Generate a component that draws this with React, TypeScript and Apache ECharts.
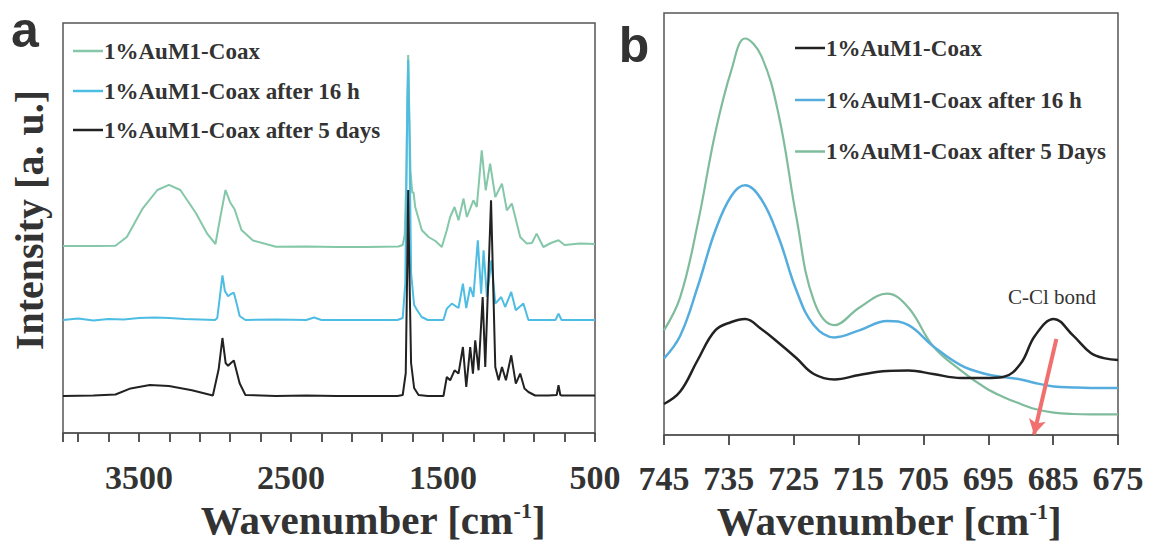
import React, { useEffect, useRef } from 'react';
import * as echarts from 'echarts';

// ---------- Panel a (FTIR, stacked spectra, arbitrary intensity units) ----------
const aNames = ['1%AuM1-Coax', '1%AuM1-Coax after 16 h', '1%AuM1-Coax after 5 days'];
const aTickLabels = [3500, 2500, 1500, 500];

const aCoaxWn = [4000, 3800, 3655, 3580, 3479, 3379, 3303, 3228, 3127, 3052, 2997, 2964, 2931, 2901, 2871, 2826, 2750, 2599, 2400, 2200, 2000, 1794, 1765, 1752, 1742, 1735, 1729, 1723, 1714, 1702, 1694, 1683, 1639, 1595, 1550, 1508, 1475, 1453, 1424, 1398, 1365, 1343, 1300, 1278, 1245, 1219, 1190, 1156, 1112, 1080, 1047, 992, 949, 915, 884, 840, 790, 740, 700, 600, 500];
const aCoaxI = [187, 187, 187.3, 196, 223.8, 243, 248.2, 243, 220.3, 199.4, 189, 216.8, 243, 230.8, 223.8, 203, 192.5, 186.2, 186.5, 186, 186, 186.5, 188, 198, 250, 330, 378, 330, 262, 240, 241, 226, 202.7, 196, 192, 186, 202.7, 216, 226, 212.7, 234.4, 216, 232.7, 226, 282.7, 242.7, 269.4, 236, 249.4, 222.7, 229.4, 196, 189.4, 190, 199.4, 186, 190, 192.7, 188, 189.4, 189];

const a16hWn = [4000, 3900, 3800, 3700, 3600, 3500, 3400, 3300, 3200, 3100, 3000, 2985, 2965, 2951, 2935, 2914, 2895, 2876, 2855, 2838, 2800, 2600, 2400, 2348, 2300, 2000, 1800, 1765, 1748, 1737, 1729, 1721, 1710, 1690, 1670, 1640, 1600, 1497, 1475, 1442, 1398, 1369, 1347, 1321, 1300, 1271, 1249, 1233, 1211, 1182, 1156, 1117, 1091, 1051, 1021, 971, 938, 850, 760, 740, 720, 600, 500];
const a16hI = [113, 114.5, 112.5, 114, 113.5, 115, 115.5, 115, 114, 113.5, 113, 115, 140, 157.7, 142, 136.8, 139, 140.3, 128, 117, 113, 113.5, 113, 115.5, 113, 113, 113, 115, 150, 300, 373, 300, 160, 128, 122.7, 116, 113, 113, 124.4, 129.4, 125, 149.4, 125, 146, 136, 192.7, 139.4, 182.7, 136, 172.7, 129.4, 136, 126, 141, 122.7, 129.4, 113, 113, 113, 119.4, 113, 113, 113];

const a5dWn = [4000, 3800, 3655, 3555, 3429, 3303, 3152, 3014, 2976, 2951, 2930, 2914, 2895, 2876, 2838, 2800, 2600, 2400, 2200, 2000, 1800, 1765, 1745, 1735, 1729, 1722, 1710, 1690, 1661, 1600, 1497, 1475, 1453, 1424, 1398, 1369, 1347, 1321, 1303, 1288, 1266, 1239, 1222, 1184, 1156, 1134, 1112, 1086, 1051, 1021, 992, 964, 938, 894, 806, 752, 740, 728, 718, 600, 500];
const a5dI = [37, 37.5, 38.5, 44.6, 48, 47, 42.8, 37.5, 63.7, 95, 70, 67.2, 70, 72.4, 49.8, 38, 37, 37.5, 37, 37, 37, 38, 60, 170, 243, 170, 70, 45, 38, 37, 37, 56, 52.7, 62.7, 59.4, 86, 46, 86, 59.4, 92.7, 62.7, 136, 66, 232.7, 66, 52.7, 66, 52.7, 77.7, 49.4, 59.4, 44.4, 41, 37.5, 37.5, 38, 47.7, 38, 37.5, 37.5, 37.5];

// ---------- Panel b (zoom 745-675 cm-1) ----------
const bNames = ['1%AuM1-Coax', '1%AuM1-Coax after 16 h', '1%AuM1-Coax after 5 Days'];
const bWn = [745, 742.5, 739.8, 737.1, 734.6, 732.5, 730.0, 727.3, 724.6, 721.9, 718.7, 714.9, 710.6, 707.3, 703.5, 699.2, 695.4, 692.7, 690.0, 687.8, 684.9, 681.9, 679.2, 677.0, 675];
const bCoaxI = [31, 43.4, 75, 104.6, 113, 116, 106, 92, 77, 61, 55.6, 60, 64, 64.5, 61, 57, 57, 58, 71.4, 99.3, 116, 99.3, 82, 76.6, 75];
const b16hI = [76.6, 99.3, 148.3, 204.2, 239.2, 249.7, 235.7, 197.2, 144.8, 109.8, 97.6, 104.6, 114, 109.8, 88.8, 69.6, 61, 58, 55.6, 52, 48.6, 47.5, 47, 47, 47];
const b5dI = [104.6, 137.8, 211.2, 302.1, 365.1, 396.5, 379.1, 319.6, 218.2, 134.3, 109.8, 127.3, 141.3, 127.3, 88.8, 64.4, 47, 38, 31, 26, 22.4, 21, 20.7, 20.7, 20.7];

// C-Cl bond arrow (data coordinates of panel b): start, end
const arrowStart = [684.5, 96];
const arrowEnd = [687.95, 0.5];
const annotationText = 'C-Cl bond';

const colA = ['#84c7a9', '#4dbde3', '#222222'];
const colB = ['#222222', '#55addd', '#7fbc9c'];

const SERIF = '"Liberation Serif", "Times New Roman", serif';
const SANS = '"Liberation Sans", Arial, sans-serif';
const TXT = '#333333';

const zip = (xs: number[], ys: number[]) => xs.map((x, i) => [x, ys[i]]);

function buildOption() {
  const axisLineStyle = { color: '#555', width: 1.5 };
  const tickStyle = { color: '#444', width: 1.8 };
  const titleRich = {
    t: { fontSize: 41, fontWeight: 'bold', fontFamily: SERIF, fill: TXT },
    s: { fontSize: 22, fontWeight: 'bold', fontFamily: SERIF, fill: TXT, verticalAlign: 'top', padding: [0, 0, 14, 0] },
  };
  const legendItems = (x0: number, ys: number[], names: string[], cols: string[]) => {
    const out: any[] = [];
    names.forEach((n, i) => {
      out.push({
        type: 'line',
        shape: { x1: x0, y1: ys[i], x2: x0 + 30, y2: ys[i] },
        style: { stroke: cols[i], lineWidth: 2.5 },
      });
      out.push({
        type: 'text',
        x: x0 + 31,
        y: ys[i],
        style: { text: n, font: `bold 23px ${SERIF}`, fill: TXT, align: 'left', verticalAlign: 'middle' },
      });
    });
    return out;
  };

  return {
    animation: false,
    backgroundColor: '#ffffff',
    grid: [
      { left: 63, top: 23, width: 532, height: 410, show: true, borderColor: '#555', borderWidth: 1.5 },
      { left: 664, top: 13, width: 454, height: 422, show: true, borderColor: '#555', borderWidth: 1.5 },
    ],
    xAxis: [
      {
        type: 'value', gridIndex: 0, min: 500, max: 4000, interval: 200, inverse: true,
        axisLine: { show: true, lineStyle: axisLineStyle },
        axisTick: { show: true, inside: false, length: 9, lineStyle: tickStyle },
        splitLine: { show: false },
        axisLabel: {
          margin: 27, fontFamily: SERIF, fontWeight: 'bold', fontSize: 34, color: TXT,
          showMinLabel: true, showMaxLabel: true,
          formatter: (v: number) => (aTickLabels.indexOf(Math.round(v)) >= 0 ? String(Math.round(v)) : ''),
        },
      },
      {
        type: 'value', gridIndex: 1, min: 675, max: 745, interval: 10, inverse: true,
        axisLine: { show: true, lineStyle: axisLineStyle },
        axisTick: { show: true, inside: false, length: 10, lineStyle: tickStyle },
        splitLine: { show: false },
        axisLabel: {
          margin: 26, fontFamily: SERIF, fontWeight: 'bold', fontSize: 34, color: TXT,
          showMinLabel: true, showMaxLabel: true,
        },
      },
    ],
    yAxis: [
      { type: 'value', gridIndex: 0, min: 0, max: 410, show: false },
      { type: 'value', gridIndex: 1, min: 0, max: 422, show: false },
    ],
    series: [
      { name: aNames[0], type: 'line', xAxisIndex: 0, yAxisIndex: 0, data: zip(aCoaxWn, aCoaxI), symbol: 'none', lineStyle: { color: colA[0], width: 2 }, itemStyle: { color: colA[0] } },
      { name: aNames[1], type: 'line', xAxisIndex: 0, yAxisIndex: 0, data: zip(a16hWn, a16hI), symbol: 'none', lineStyle: { color: colA[1], width: 2 }, itemStyle: { color: colA[1] } },
      { name: aNames[2], type: 'line', xAxisIndex: 0, yAxisIndex: 0, data: zip(a5dWn, a5dI), symbol: 'none', lineStyle: { color: colA[2], width: 2 }, itemStyle: { color: colA[2] } },
      { name: bNames[2], type: 'line', xAxisIndex: 1, yAxisIndex: 1, data: zip(bWn, b5dI), symbol: 'none', smooth: 0.4, lineStyle: { color: colB[2], width: 2.2 }, itemStyle: { color: colB[2] } },
      { name: bNames[1], type: 'line', xAxisIndex: 1, yAxisIndex: 1, data: zip(bWn, b16hI), symbol: 'none', smooth: 0.4, lineStyle: { color: colB[1], width: 2.5 }, itemStyle: { color: colB[1] } },
      {
        name: bNames[0], type: 'line', xAxisIndex: 1, yAxisIndex: 1, data: zip(bWn, bCoaxI), symbol: 'none', smooth: 0.4,
        lineStyle: { color: colB[0], width: 2.5 }, itemStyle: { color: colB[0] },
        markLine: {
          silent: true,
          symbol: ['none', 'arrow'],
          symbolSize: [13, 15],
          label: { show: false },
          lineStyle: { color: '#f07070', width: 4, type: 'solid' },
          data: [[{ coord: arrowStart }, { coord: arrowEnd }]],
        },
      },
    ],
    graphic: [
      { type: 'text', x: 25, y: 30, style: { text: 'a', font: `bold 50px ${SANS}`, fill: TXT, align: 'center', verticalAlign: 'middle' } },
      { type: 'text', x: 634, y: 45, style: { text: 'b', font: `bold 50px ${SANS}`, fill: TXT, align: 'center', verticalAlign: 'middle' } },
      {
        type: 'text', x: 29, y: 220, rotation: Math.PI / 2,
        style: { text: 'Intensity [a. u.]', font: `bold 40px ${SERIF}`, fill: TXT, align: 'center', verticalAlign: 'middle' },
      },
      {
        type: 'text', x: 373, y: 520,
        style: { text: '{t|Wavenumber [cm}{s|-1}{t|]}', rich: titleRich, align: 'center', verticalAlign: 'middle' },
      },
      {
        type: 'text', x: 889, y: 521,
        style: { text: '{t|Wavenumber [cm}{s|-1}{t|]}', rich: titleRich, align: 'center', verticalAlign: 'middle' },
      },
      { type: 'text', x: 1052, y: 297, style: { text: annotationText, font: `21px ${SERIF}`, fill: TXT, align: 'center', verticalAlign: 'middle' } },
      ...legendItems(73, [51, 91, 130], aNames, colA),
      ...legendItems(795, [48, 100, 151.5], bNames, colB),
    ],
  };
}

export default function App() {
  const ref = useRef<HTMLDivElement>(null);
  useEffect(() => {
    if (!ref.current) return;
    const chart = echarts.init(ref.current, null, { renderer: 'svg' });
    chart.setOption(buildOption() as any);
    return () => chart.dispose();
  }, []);
  return <div ref={ref} style={{ position: 'absolute', left: 0, top: 0, width: 1150, height: 547 }} />;
}
